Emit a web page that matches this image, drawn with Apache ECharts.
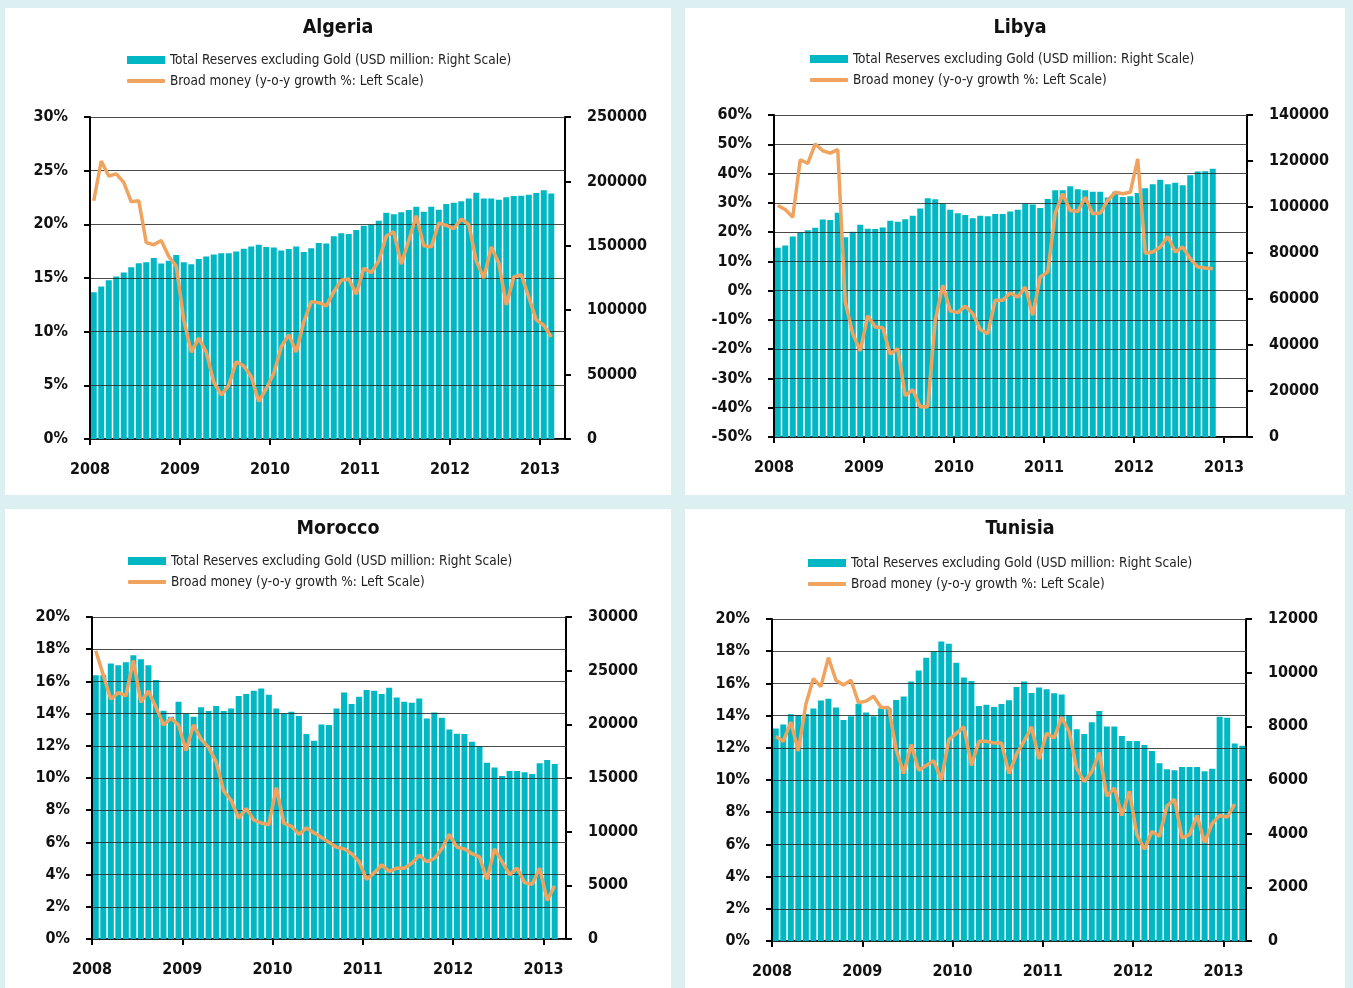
<!DOCTYPE html>
<html>
<head>
<meta charset="utf-8">
<title>Reserves and broad money</title>
<script src="https://cdn.jsdelivr.net/npm/echarts@6/dist/echarts.min.js"></script>
<style>
  html, body { margin: 0; padding: 0; background: #dcf0f2; }
  #chart { width: 1353px; height: 988px; }
</style>
</head>
<body>
<div id="chart"></div>
<script>
// monthly data from Jan 2008
const yearLabels = ['2008', '2009', '2010', '2011', '2012', '2013'];
const reservesName = 'Total Reserves excluding Gold (USD million: Right Scale)';
const moneyName = 'Broad money (y-o-y growth %: Left Scale)';

const algeriaReserves = [114000, 118400, 123300, 126200, 129300, 133400, 136500, 137300, 140600, 136200,
  138300, 142900, 137300, 135700, 139800, 141600, 143200, 144200, 144200, 145500,
  147800, 149400, 150900, 149100, 148600, 146300, 147600, 149400, 145200, 148100,
  152200, 151700, 157400, 159700, 159200, 162300, 165600, 166400, 169500, 175700,
  174400, 176000, 177800, 180300, 176500, 180300, 178000, 182400, 183400, 184500,
  186800, 191200, 186800, 186800, 185800, 187600, 188600, 188900, 189600, 190900,
  193200, 190600];
const algeriaMoney = [22.2, 25.9, 24.5, 24.7, 23.9, 22.1, 22.2, 18.3, 18.1, 18.5,
  17.0, 16.1, 11.1, 8.1, 9.4, 8.1, 5.3, 4.1, 5.0, 7.2,
  6.8, 5.8, 3.5, 4.7, 6.1, 8.6, 9.7, 8.1, 10.9, 12.8,
  12.7, 12.4, 13.7, 14.8, 14.9, 13.5, 15.9, 15.5, 16.6, 18.9,
  19.3, 16.3, 18.5, 20.8, 18.0, 17.9, 20.1, 19.9, 19.6, 20.5,
  20.0, 16.6, 15.0, 17.9, 16.4, 12.5, 15.1, 15.3, 13.2, 11.1,
  10.6, 9.5];

const libyaReserves = [82300, 83300, 87200, 88900, 89900, 91000, 94600, 94400, 97500, 86900,
  89200, 92300, 90500, 90400, 91100, 94000, 93600, 94700, 96200, 99300,
  103800, 103400, 101500, 98800, 97300, 96500, 95100, 96200, 96000, 97000,
  97000, 98000, 98800, 101500, 101100, 99600, 103500, 107300, 107300, 109000,
  107700, 107300, 106600, 106600, 104100, 106600, 104400, 104700, 106100, 108200,
  109900, 111900, 109900, 110500, 109500, 113800, 115400, 115500, 116600];
const libyaMoney = [29.1, 27.7, 25.1, 44.7, 43.5, 50.1, 47.8, 47.0, 48.2, -3.9,
  -14.7, -20.6, -8.6, -12.4, -12.7, -21.7, -19.8, -35.9, -33.8, -39.7,
  -39.7, -10.1, 1.8, -6.9, -7.5, -5.3, -7.8, -13.3, -14.7, -3.3,
  -3.3, -0.8, -2.2, 1.2, -8.4, 4.7, 6.4, 26.5, 33.1, 27.4,
  27.0, 31.9, 26.3, 26.5, 30.8, 33.6, 33.1, 33.6, 45.0, 12.8,
  13.2, 14.9, 18.5, 13.2, 14.9, 10.9, 8.1, 7.7, 7.5];

const moroccoReserves = [24580, 24580, 25670, 25510, 25790, 26440, 26070, 25510, 24120, 21270,
  20710, 22100, 21020, 20710, 21580, 21240, 21700, 21240, 21480, 22630,
  22820, 23130, 23340, 22750, 21480, 21020, 21170, 20770, 19100, 18480,
  19990, 19930, 21480, 22970, 21890, 22570, 23190, 23130, 22820, 23410,
  22510, 22100, 22010, 22410, 20550, 21110, 20620, 19530, 19130, 19100,
  18380, 17980, 16430, 15970, 15190, 15660, 15660, 15530, 15380, 16370,
  16680, 16310];
const moroccoMoney = [17.9, 16.4, 14.9, 15.3, 15.1, 17.3, 14.7, 15.4, 14.4, 13.3,
  13.7, 13.3, 11.7, 13.3, 12.4, 11.9, 11.0, 9.2, 8.6, 7.5,
  8.1, 7.4, 7.2, 7.1, 9.4, 7.2, 7.0, 6.5, 6.9, 6.6,
  6.3, 6.0, 5.7, 5.6, 5.3, 4.8, 3.7, 4.1, 4.6, 4.2,
  4.4, 4.4, 4.7, 5.2, 4.8, 5.0, 5.6, 6.5, 5.7, 5.6,
  5.3, 5.1, 3.7, 5.6, 4.8, 4.0, 4.4, 3.5, 3.4, 4.4,
  2.4, 3.3];

const tunisiaReserves = [7920, 8070, 8450, 8420, 8460, 8660, 8960, 9030, 8700, 8240,
  8380, 8840, 8520, 8380, 8670, 8670, 8980, 9110, 9670, 10080,
  10560, 10790, 11160, 11080, 10370, 9820, 9690, 8760, 8800, 8720,
  8830, 8970, 9470, 9670, 9240, 9450, 9380, 9230, 9190, 8400,
  7890, 7710, 8150, 8570, 7990, 7990, 7640, 7450, 7450, 7300,
  7080, 6620, 6400, 6360, 6480, 6480, 6480, 6330, 6420, 8360,
  8320, 7360, 7280];
const tunisiaMoney = [12.7, 12.4, 13.6, 11.8, 14.7, 16.3, 15.8, 17.6, 16.2, 15.9,
  16.2, 14.8, 14.9, 15.2, 14.5, 14.5, 11.9, 10.4, 12.2, 10.6,
  10.9, 11.2, 10.0, 12.5, 12.9, 13.3, 10.9, 12.4, 12.4, 12.3,
  12.3, 10.4, 11.6, 12.4, 13.3, 11.3, 12.9, 12.6, 13.9, 13.0,
  10.7, 9.9, 10.5, 11.7, 9.0, 9.5, 7.8, 9.3, 6.6, 5.7,
  6.8, 6.5, 8.4, 8.8, 6.4, 6.6, 7.8, 6.1, 7.3, 7.8,
  7.7, 8.5];

const font = "'DejaVu Sans Condensed', 'DejaVu Sans', sans-serif";
const barColor = '#00b7c3';
const lineColor = '#f0a35e';

// layout of the four panels
const panels = [
  { name: 'Algeria', reserves: algeriaReserves, money: algeriaMoney,
    box: [5, 8, 666, 487], titleX: 333, titleTop: 13, legendX: 127, legendTop: 53,
    grid: { left: 90, top: 117, width: 475, height: 322 }, xMax: 63.33,
    leftAxis: [0, 30, 5], rightAxis: [0, 250000, 50000] },
  { name: 'Libya', reserves: libyaReserves, money: libyaMoney,
    box: [685, 8, 660, 487], titleX: 1015, titleTop: 13, legendX: 810, legendTop: 52,
    grid: { left: 774, top: 115, width: 473, height: 322 }, xMax: 63.07,
    leftAxis: [-50, 60, 10], rightAxis: [0, 140000, 20000] },
  { name: 'Morocco', reserves: moroccoReserves, money: moroccoMoney,
    box: [5, 509, 666, 479], titleX: 333, titleTop: 514, legendX: 128, legendTop: 554,
    grid: { left: 92, top: 617, width: 474, height: 322 }, xMax: 63.0,
    leftAxis: [0, 20, 2], rightAxis: [0, 30000, 5000] },
  { name: 'Tunisia', reserves: tunisiaReserves, money: tunisiaMoney,
    box: [685, 509, 660, 479], titleX: 1015, titleTop: 514, legendX: 808, legendTop: 556,
    grid: { left: 772, top: 619, width: 474, height: 322 }, xMax: 63.0,
    leftAxis: [0, 20, 2], rightAxis: [0, 12000, 2000] }
];

const yearTicks = yearLabels.map((_, i) => i * 12);
const labelStyle = { color: '#111', fontSize: 16, fontWeight: 'bold', fontFamily: font };
const blackLine = { color: '#000', width: 2 };
const legendText = { fontSize: 13.5, color: '#222', fontFamily: font };

const option = {
  backgroundColor: '#dcf0f2',
  animation: false,
  graphic: {
    elements: panels.map(p => ({
      type: 'rect', silent: true, z: -10,
      shape: { x: p.box[0], y: p.box[1], width: p.box[2], height: p.box[3] },
      style: { fill: '#fff' }
    }))
  },
  title: panels.map(p => ({
    text: p.name, left: p.titleX, top: p.titleTop, textAlign: 'center',
    textStyle: { fontSize: 19.5, fontWeight: 'bold', color: '#111', fontFamily: font }
  })),
  // one legend per row so the two swatches can differ in height
  legend: panels.flatMap(p => [
    { left: p.legendX, top: p.legendTop, padding: 0, itemWidth: 38, itemHeight: 8,
      selectedMode: false, textStyle: legendText,
      data: [{ name: reservesName, icon: 'rect' }] },
    { left: p.legendX, top: p.legendTop + 21, padding: 0, itemWidth: 38, itemHeight: 4,
      selectedMode: false, textStyle: legendText,
      data: [{ name: moneyName, icon: 'roundRect' }] }
  ]),
  grid: panels.map(p => p.grid),
  xAxis: panels.map((p, i) => ({
    type: 'value', gridIndex: i, min: 0, max: p.xMax,
    axisLine: { onZero: false, lineStyle: blackLine },
    axisTick: { customValues: yearTicks, length: 6, lineStyle: blackLine },
    axisLabel: { customValues: yearTicks, margin: 23, ...labelStyle,
      formatter: v => yearLabels[Math.round(v / 12)] },
    splitLine: { show: false }
  })),
  yAxis: panels.flatMap((p, i) => [
    { type: 'value', gridIndex: i, position: 'left', z: 3,
      min: p.leftAxis[0], max: p.leftAxis[1], interval: p.leftAxis[2],
      axisLine: { show: true, onZero: false, lineStyle: blackLine },
      axisTick: { show: true, length: 6, lineStyle: blackLine },
      axisLabel: { margin: 22, ...labelStyle, formatter: '{value}%' },
      splitLine: { show: true, lineStyle: { color: '#2b2b2b', width: 1, opacity: 0.85 } } },
    { type: 'value', gridIndex: i, position: 'right',
      min: p.rightAxis[0], max: p.rightAxis[1], interval: p.rightAxis[2],
      axisLine: { show: true, onZero: false, lineStyle: blackLine },
      axisTick: { show: true, length: 6, lineStyle: blackLine },
      axisLabel: { margin: 22, ...labelStyle, formatter: v => String(v) },
      splitLine: { show: false } }
  ]),
  series: panels.flatMap((p, i) => [
    { type: 'bar', name: reservesName, xAxisIndex: i, yAxisIndex: 2 * i + 1,
      barWidth: 6, itemStyle: { color: barColor },
      data: p.reserves.map((v, k) => [k + 0.5, v]) },
    { type: 'line', name: moneyName, xAxisIndex: i, yAxisIndex: 2 * i, z: 5,
      symbol: 'none', itemStyle: { color: lineColor },
      lineStyle: { color: lineColor, width: 3.5 },
      data: p.money.map((v, k) => [k + 0.5, v]) }
  ])
};

const myChart = echarts.init(document.getElementById('chart'));
myChart.setOption(option);
</script>
</body>
</html>
